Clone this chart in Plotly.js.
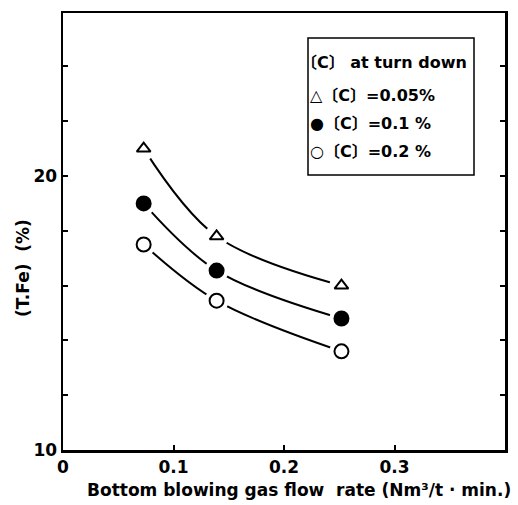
<!DOCTYPE html>
<html>
<head>
<meta charset="utf-8">
<script src="https://cdn.plot.ly/plotly-3.0.1.min.js"></script>
<style>html,body{margin:0;padding:0;background:#fff;}#chart{width:518px;height:505px;}</style>
</head>
<body>
<div id="chart"></div>
<script>
// ---- data ----
var xFlow = [0.073, 0.139, 0.252];
var tfe005 = [21.0, 17.8, 16.0];
var tfe01 = [19.0, 16.55, 14.8];
var tfe02 = [17.5, 15.45, 13.6];

var seriesNames = ["〔C〕=0.05%", "〔C〕=0.1 %", "〔C〕=0.2 %"];
var legendSymbols = ["△", "●", "○"];
var legendTitle = "〔C〕 at turn down";

var xTickVals = [0, 0.1, 0.2, 0.3];
var xTickText = ["0", "0.1", "0.2", "0.3"];
var yTickVals = [10, 12, 14, 16, 18, 20, 22, 24];
var yTickText = ["10", "", "", "", "", "20", "", ""];

var xTitle = "Bottom blowing gas flow  rate (Nm³/t · min.)";
var yTitle = "(T.Fe)  (%)";

// ---- styling ----
var FONT = "DejaVu Sans, Noto Sans CJK JP, sans-serif";
var ys = [tfe005, tfe01, tfe02];
var syms = ["triangle-up-open", "circle", "circle-open"];
var msizes = [12, 14, 14];

var traces = [];
ys.forEach(function (y, i) {
  traces.push({x: xFlow, y: y, mode: "lines", line: {color: "#000", width: 2, shape: "spline", smoothing: 1},
    showlegend: false, hoverinfo: "skip"});
});
ys.forEach(function (y, i) {
  traces.push({x: xFlow, y: y, mode: "markers", marker: {color: "#fff", size: 24, line: {width: 0}},
    showlegend: false, hoverinfo: "skip"});
});
ys.forEach(function (y, i) {
  traces.push({x: xFlow, y: y, mode: "markers", name: seriesNames[i],
    marker: {symbol: syms[i], size: msizes[i], color: "#000", line: {color: "#000", width: 2}},
    showlegend: false});
});

var annotations = [];
var rowY = [0.886, 0.812, 0.748, 0.682];
var rowX = [299, 308, 308, 308];
var rowText = [legendTitle].concat(legendSymbols.map(function (s, i) { return s + seriesNames[i]; }));
rowText.forEach(function (t, i) {
  annotations.push({xref: "paper", yref: "paper", x: (rowX[i] - 63) / 442, y: rowY[i], xanchor: "left", yanchor: "middle",
    text: t, showarrow: false, font: {family: FONT, size: 16, color: "#000", weight: "bold"}});
});
annotations.push({xref: "paper", yref: "paper", x: (299 - 63) / 442, y: (450 - 490) / 437, xanchor: "center", yanchor: "middle",
  text: xTitle, showarrow: false, font: {family: FONT, size: 17, color: "#000", weight: "bold"}});
annotations.push({xref: "paper", yref: "paper", x: (23 - 63) / 442, y: (450 - 268) / 437, xanchor: "center", yanchor: "middle",
  text: yTitle, textangle: -90, showarrow: false, font: {family: FONT, size: 17, color: "#000", weight: "bold"}});

var layout = {
  width: 518, height: 505,
  margin: {l: 63, r: 13, t: 13, b: 55},
  paper_bgcolor: "#fff", plot_bgcolor: "#fff",
  showlegend: false,
  font: {family: FONT, color: "#000"},
  xaxis: {range: [0, 0.4], tickvals: xTickVals, ticktext: xTickText, ticks: "inside", ticklen: 5, tickwidth: 2,
    tickcolor: "#000", showline: true, linecolor: "#000", linewidth: 2.5, mirror: true, showgrid: false, zeroline: false,
    tickfont: {family: FONT, size: 17, color: "#000", weight: "bold"}},
  yaxis: {range: [10, 25.95], tickvals: yTickVals, ticktext: yTickText, ticks: "inside", ticklen: 5, tickwidth: 2,
    tickcolor: "#000", showline: true, linecolor: "#000", linewidth: 2.5, mirror: "ticks", showgrid: false, zeroline: false,
    tickfont: {family: FONT, size: 17, color: "#000", weight: "bold"}},
  shapes: [{type: "rect", xref: "paper", yref: "paper", x0: (308 - 63) / 442, x1: (474 - 63) / 442,
    y0: (450 - 175) / 437, y1: (450 - 38) / 437, line: {color: "#000", width: 1.5}, fillcolor: "rgba(0,0,0,0)"}],
  annotations: annotations
};

Plotly.newPlot("chart", traces, layout, {staticPlot: true, displayModeBar: false});
</script>
</body>
</html>
